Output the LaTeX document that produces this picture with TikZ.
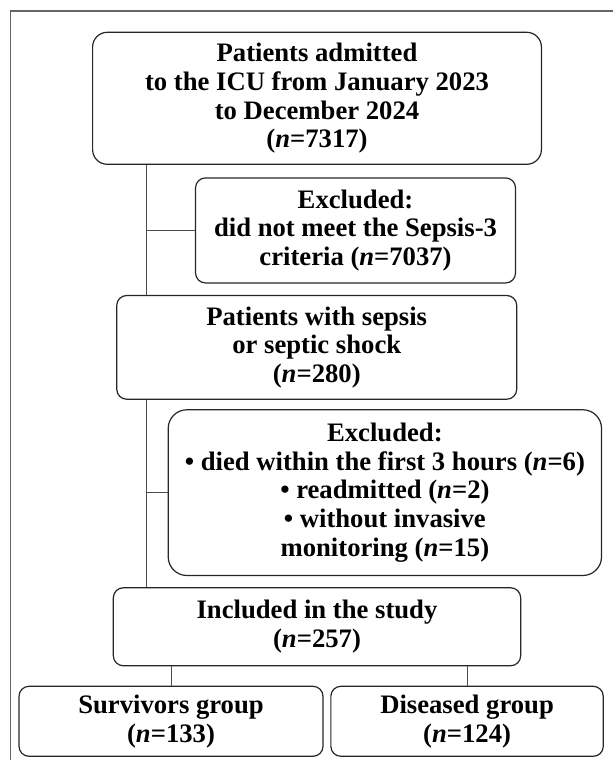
\documentclass[tikz,border=0pt]{standalone}
\usepackage{fontspec}
\setmainfont{Liberation Serif}
\usetikzlibrary{positioning}

\begin{document}
\begin{tikzpicture}[x=0.75pt, y=-0.75pt,
  font=\fontsize{20}{21.5}\selectfont\bfseries,
  box/.style={draw=black!85,line width=0.9pt,rounded corners=7.5pt,align=center,inner sep=2pt},
  link/.style={draw=black!70,line width=0.75pt}]
  \useasboundingbox (0,0) rectangle (613,760);
  \draw[black!60,line width=0.9pt] (10.5,760) -- (10.5,11) -- (613,11); % frame
  \node[box,rounded corners=11pt,minimum width=336.6pt,minimum height=99pt] (adm) at (317,98.3)
    {Patients admitted\\to the ICU from January 2023\\to December 2024\\(\textit{n}=7317)};
  \node[box,minimum width=240pt,minimum height=78.8pt,below=9.3pt of adm,xshift=28.9pt] (ex1)
    {Excluded:\\did not meet the Sepsis-3\\criteria (\textit{n}=7037)};
  \node[box,minimum width=300pt,minimum height=77.8pt,below=8.5pt of ex1,xshift=-29.1pt] (sep)
    {Patients with sepsis\\or septic shock\\(\textit{n}=280)};
  \node[box,rounded corners=14pt,minimum width=325pt,minimum height=124.3pt,below=7pt of sep,xshift=51.1pt] (ex2)
    {Excluded:\\\textbullet{} died within the first 3 hours (\textit{n}=6)\\\textbullet{} readmitted (\textit{n}=2)\\\textbullet{} without invasive\\monitoring (\textit{n}=15)};
  \node[box,minimum width=305.5pt,minimum height=58.5pt,below=8.3pt of ex2,xshift=-50.9pt] (inc)
    {Included in the study\\(\textit{n}=257)};
  \node[box,minimum width=228pt,minimum height=52.5pt,below=14.5pt of inc,xshift=-109.5pt] (surv)
    {Survivors group\\(\textit{n}=133)};
  \node[box,minimum width=204.3pt,minimum height=52.5pt,right=5pt of surv] (dis)
    {Diseased group\\(\textit{n}=124)};
  % trunk and side branches
  \coordinate (tr) at ([xshift=40.5pt]adm.south west);
  \draw[link] (tr) -- (tr |- sep.north);
  \draw[link] (tr |- sep.south) -- (tr |- inc.north);
  \draw[link] (tr |- ex1.west) -- (ex1.west);
  \draw[link] (tr |- ex2.west) -- (ex2.west);
  \draw[link] (inc.south -| surv) -- (surv.north);
  \draw[link] (inc.south -| dis) -- (dis.north);
\end{tikzpicture}
\end{document}
